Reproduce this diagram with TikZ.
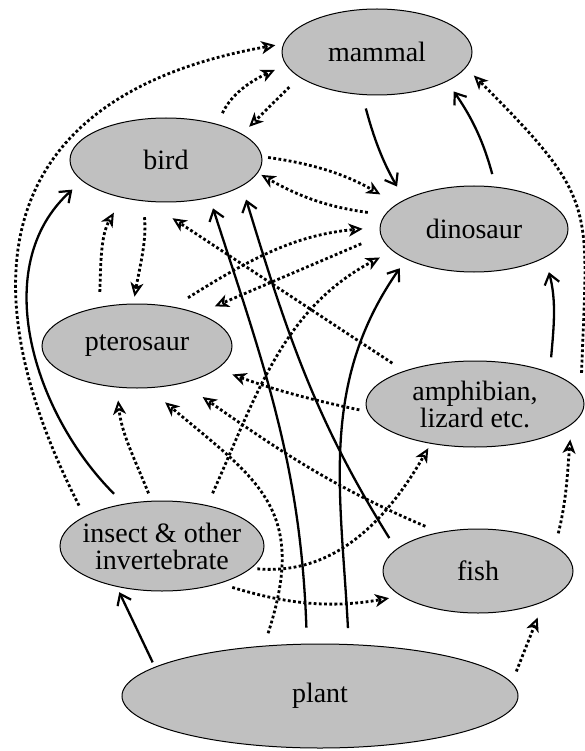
\documentclass[tikz,border=0pt]{standalone}
\usepackage{fontspec}
\setmainfont{Liberation Serif}
\usetikzlibrary{shapes.geometric,arrows.meta}
\definecolor{ellgray}{RGB}{192,192,192}
\begin{document}
\begin{tikzpicture}[x=1pt,y=1pt,
  animal/.style={ellipse, draw, line width=1pt, fill=ellgray, inner sep=0pt,
    font=\fontsize{28}{27}\selectfont, align=center},
  sol/.style={line width=2.3pt, -{Straight Barb[length=10pt,width=15pt,line width=2.2pt]}},
  dot/.style={line width=2.8pt, dash pattern=on 2.8pt off 2.4pt,
    -{Stealth[open,length=14pt,width=13pt,inset=4pt,line width=2pt]}}]
\useasboundingbox (0,0) rectangle (585,-751);

\node[animal, minimum width=190pt, minimum height=86pt] (mammal) at (377,-52) {mammal};
\node[animal, minimum width=192pt, minimum height=84pt] (bird) at (166,-160) {bird};
\node[animal, minimum width=188pt, minimum height=86pt] (dino) at (474,-229) {dinosaur};
\node[animal, minimum width=190pt, minimum height=84pt] (ptero) at (137,-346) {pterosaur};
\node[animal, minimum width=218pt, minimum height=86pt] (amph) at (475,-404) {\makebox[130pt]{amphibian,}\\\makebox[130pt]{lizard etc.}};
\node[animal, minimum width=204pt, minimum height=90pt] (insect) at (162,-546) {\makebox[130pt]{insect \& other}\\\makebox[130pt]{invertebrate}};
\node[animal, minimum width=190pt, minimum height=84pt] (fish) at (478,-571) {fish};
\node[animal, minimum width=396pt, minimum height=104pt] (plant) at (320,-696) {plant};

% dotted connectors
\draw[dot, shorten <=12pt, shorten >=8pt] (insect.159) to[out=117,in=190,looseness=1.4] (mammal.175);
\draw[dot, shorten <=12pt, shorten >=12pt] (bird.35) to[out=65,in=205] (mammal.188);
\draw[dot, shorten <=14pt, shorten >=10pt] (mammal.198) -- (bird.19);
\draw[dot, shorten <=20pt, shorten >=11pt] (amph.6) to[out=88,in=-45,looseness=1.4] (mammal.-10);
\draw[dot, shorten <=6pt, shorten >=19pt] (bird.2) to[out=-8,in=150] (dino.162);
\draw[dot, shorten <=17pt, shorten >=4pt] (dino.171) to[out=172,in=-30] (bird.-8);
\draw[dot, shorten <=16pt, shorten >=7pt] (bird.241) to[out=-85,in=80] (ptero.95);
\draw[dot, shorten <=15pt, shorten >=17pt] (ptero.134) to[out=88,in=-120] (bird.221);
\draw[dot, shorten <=14pt, shorten >=30pt] (amph.155) -- (bird.246);
\draw[dot, shorten <=8pt, shorten >=13pt] (insect.103) to[out=112,in=-84] (ptero.244);
\draw[dot, shorten <=13pt, shorten >=14pt] (insect.42) to[out=66,in=-152] (dino.195);
\draw[dot, shorten <=17pt, shorten >=17pt] (ptero.47) to[out=32,in=185] (dino.179);
\draw[dot, shorten <=21pt, shorten >=18pt] (dino.184) -- (ptero.28);
\draw[dot, shorten <=8pt, shorten >=16pt] (amph.184) to[out=168,in=-20] (ptero.-16);
\draw[dot, shorten <=15pt, shorten >=24pt] (fish.135) to[out=157,in=-35] (ptero.-39);
\draw[dot, shorten <=13pt, shorten >=22pt] (plant.138) to[out=72,in=-40,looseness=1.3] (ptero.-75);
\draw[dot, shorten <=6pt, shorten >=5pt] (insect.-14) to[out=-5,in=-120] (amph.222);
\draw[dot, shorten <=13pt, shorten >=12pt] (insect.-33) to[out=-17,in=190] (fish.198);
\draw[dot, shorten <=12pt, shorten >=17pt] (plant.4) -- (fish.-25);
\draw[dot, shorten <=13pt, shorten >=15pt] (fish.18) to[out=76,in=-95] (amph.-12);

% solid connectors
\draw[sol, shorten <=14pt, shorten >=15pt] (mammal.251) to[out=-75,in=120] (dino.157);
\draw[sol, shorten <=13pt, shorten >=12pt] (dino.63) to[out=105,in=-55] (mammal.-23);
\draw[sol, shorten <=13pt, shorten >=14pt] (fish.165) to[out=122,in=-73] (bird.-19);
\draw[sol, shorten <=16pt, shorten >=11pt] (plant.104) to[out=92,in=-72] (bird.-41);
\draw[sol, shorten <=16pt, shorten >=11pt] (plant.61) to[out=93,in=-125] (dino.204);
\draw[sol, shorten <=14pt, shorten >=13pt] (insect.132) to[out=135,in=-138] (bird.194);
\draw[sol, shorten <=5pt, shorten >=6pt] (plant.170) -- (insect.222);
\draw[sol, shorten <=15pt, shorten >=15pt] (amph.23) to[out=85,in=-75] (dino.-22);
\end{tikzpicture}
\end{document}
